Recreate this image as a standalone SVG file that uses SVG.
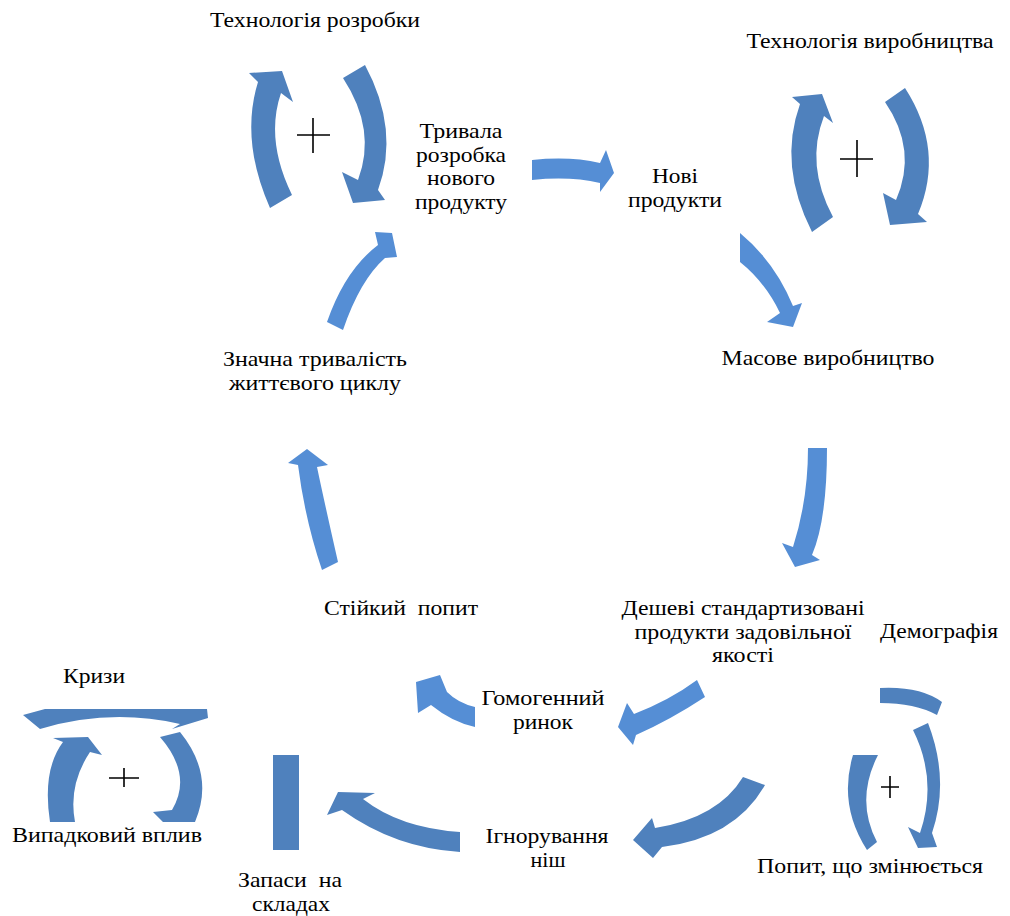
<svg xmlns="http://www.w3.org/2000/svg" width="1010" height="916" viewBox="0 0 1010 916">
<style>
text{font-family:"Liberation Serif","Times New Roman",serif;font-size:21px;fill:#000;text-anchor:middle;white-space:pre}
.loop{fill:#4F81BD}
.con{fill:#558ED5}
.con2{fill:#4F81BD}
.plus{stroke:#000;stroke-width:1.6;fill:none}
</style>
<rect width="1010" height="916" fill="#fff"/>
<g id="loop-dev">
<path class="loop" d="M270,208 Q240,140 258,82 L249,73 L282,71 L293,102 L281,93 Q265,140 292,195 Z"/>
<path class="loop" d="M343,78 L365,65 Q400,130 378,190 L385,200 L353,203 L342,172 L358,180 Q377,130 343,78 Z"/>
<path class="plus" d="M297,135 H330 M313,118 V153"/>
</g>
<g id="loop-prod">
<path class="loop" d="M812,232 Q778,165 800,104 L792,97 L822,94 L833,123 L824,116 Q805,165 833,217 Z"/>
<path class="loop" d="M885,102 L905,88 Q945,150 918,214 L927,222 L890,225 L883,193 L896,200 Q918,150 885,102 Z"/>
<path class="plus" d="M840,159 H873 M857,140 V177"/>
</g>
<g id="loop-crisis">
<path class="loop" d="M23,715 L45,709 L207,709 L208,718 L172,729 L180,724 Q110,708 40,729 Z"/>
<path class="loop" d="M50,822 Q42,770 63,742 L53,738 L88,737 L102,755 L90,752 Q68,785 75,822 Z"/>
<path class="loop" d="M160,737 L180,732 Q215,775 195,822 L163,822 L153,812 L172,810 Q193,775 160,737 Z"/>
<path class="plus" d="M109,778 H139 M124,768 V787"/>
</g>
<g id="loop-demand">
<path class="loop" d="M880,688 Q920,686 942,702 L937,715 Q915,703 880,703 Z"/>
<path class="loop" d="M913,730 L928,723 Q950,780 932,833 L937,847 L918,848 L908,827 L920,833 Q938,780 913,730 Z"/>
<path class="loop" d="M853,755 Q838,805 867,850 L877,842 Q855,800 878,755 Z"/>
<path class="plus" d="M881,787 H899 M890,776 V798"/>
</g>
<g id="stock-bar">
<rect class="loop" x="273" y="755" width="26" height="95"/>
</g>
<g id="connectors">
<path class="con" d="M532,160 Q570,156 600,163 L606,150 L614,173 L600,192 L600,183 Q570,176 532,180 Z"/>
<path class="con" d="M740,233 Q775,262 793,306 L802,303 L793,327 L767,322 L780,313 Q765,282 740,262 Z"/>
<path class="con" d="M808,448 L827,448 Q827,520 812,555 L820,560 L795,567 L782,543 L793,547 Q808,500 808,448 Z"/>
<path class="con" d="M697,680 L705,697 Q670,720 636,735 L633,745 L618,727 L627,703 L634,714 Q670,700 697,680 Z"/>
<path class="con" d="M475,707 Q458,703 447,692 L440,675 L416,682 L418,713 L431,705 Q452,722 475,727 Z"/>
<path class="con2" d="M460,832 L460,852 Q395,848 342,810 L327,815 L338,792 L375,793 L363,799 Q400,828 460,832 Z"/>
<path class="con2" d="M743,777 L765,785 Q735,838 662,847 L653,858 L633,840 L652,818 L655,828 Q718,818 743,777 Z"/>
<path class="con" d="M322,570 L338,562 Q325,505 317,467 L328,465 L307,449 L288,463 L298,465 Q305,520 322,570 Z"/>
<path class="con" d="M327,322 L343,330 Q360,280 385,258 L397,257 L392,233 L375,232 L378,245 Q345,270 327,322 Z"/>
</g>
<g id="n-tech-dev"><text x="315" y="27" textLength="210" lengthAdjust="spacingAndGlyphs">Технологія розробки</text></g>
<g id="n-long-dev"><text x="461" y="138" textLength="83" lengthAdjust="spacingAndGlyphs">Тривала</text><text x="461" y="161.5" textLength="90" lengthAdjust="spacingAndGlyphs">розробка</text><text x="461" y="185" textLength="68" lengthAdjust="spacingAndGlyphs">нового</text><text x="461" y="208.5" textLength="92" lengthAdjust="spacingAndGlyphs">продукту</text></g>
<g id="n-new"><text x="675" y="183" textLength="46" lengthAdjust="spacingAndGlyphs">Нові</text><text x="675" y="207" textLength="94" lengthAdjust="spacingAndGlyphs">продукти</text></g>
<g id="n-tech-prod"><text x="870" y="48" textLength="247" lengthAdjust="spacingAndGlyphs">Технологія виробництва</text></g>
<g id="n-mass"><text x="828" y="365" textLength="213" lengthAdjust="spacingAndGlyphs">Масове виробництво</text></g>
<g id="n-lifecycle"><text x="315" y="366" textLength="184" lengthAdjust="spacingAndGlyphs">Значна тривалість</text><text x="315" y="390" textLength="172" lengthAdjust="spacingAndGlyphs">життєвого циклу</text></g>
<g id="n-stable"><text x="401" y="615" textLength="154" lengthAdjust="spacingAndGlyphs">Стійкий  попит</text></g>
<g id="n-cheap"><text x="743" y="615" textLength="243" lengthAdjust="spacingAndGlyphs">Дешеві стандартизовані</text><text x="743" y="638.5" textLength="217" lengthAdjust="spacingAndGlyphs">продукти задовільної</text><text x="743" y="662" textLength="62" lengthAdjust="spacingAndGlyphs">якості</text></g>
<g id="n-demo"><text x="939" y="638" textLength="118" lengthAdjust="spacingAndGlyphs">Демографія</text></g>
<g id="n-crisis"><text x="94" y="683" textLength="62" lengthAdjust="spacingAndGlyphs">Кризи</text></g>
<g id="n-homo"><text x="543" y="705" textLength="123" lengthAdjust="spacingAndGlyphs">Гомогенний</text><text x="543" y="729" textLength="60" lengthAdjust="spacingAndGlyphs">ринок</text></g>
<g id="n-random"><text x="107" y="842" textLength="190" lengthAdjust="spacingAndGlyphs">Випадковий вплив</text></g>
<g id="n-niche"><text x="547" y="843" textLength="123" lengthAdjust="spacingAndGlyphs">Ігнорування</text><text x="548" y="867" textLength="35" lengthAdjust="spacingAndGlyphs">ніш</text></g>
<g id="n-stock"><text x="290" y="887" textLength="104" lengthAdjust="spacingAndGlyphs">Запаси  на</text><text x="291" y="910.5" textLength="78" lengthAdjust="spacingAndGlyphs">складах</text></g>
<g id="n-demand"><text x="870" y="873" textLength="226" lengthAdjust="spacingAndGlyphs">Попит, що змінюється</text></g>
</svg>
